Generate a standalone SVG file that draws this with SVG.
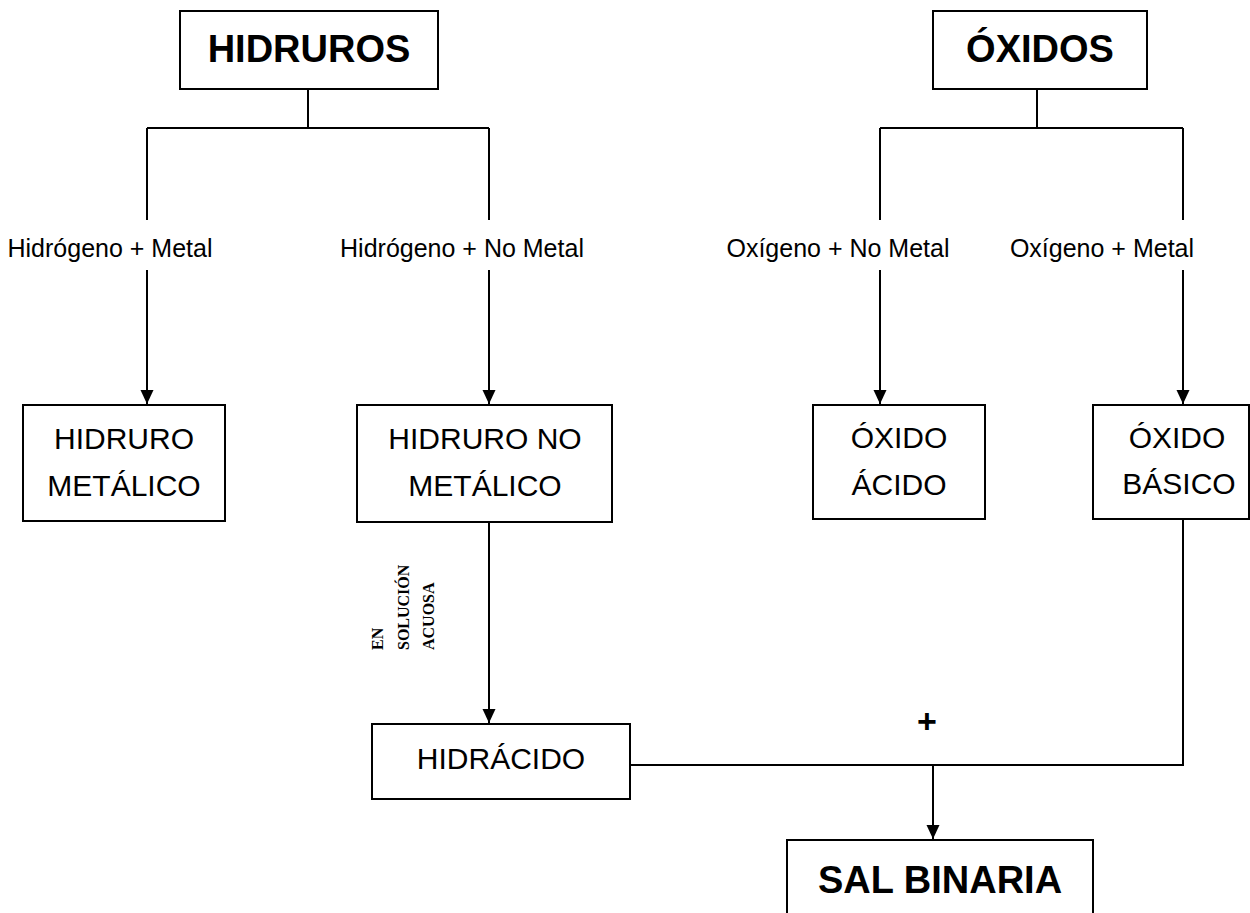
<svg xmlns="http://www.w3.org/2000/svg" width="1250" height="913" viewBox="0 0 1250 913">
<style>
.box{fill:#fff;stroke:#000;stroke-width:2}
.ln{fill:none;stroke:#000;stroke-width:2}
.t{font-family:'Liberation Sans',sans-serif;fill:#000;text-anchor:middle}
.big{font-size:38px;font-weight:bold}
.reg{font-size:30px}
.lab{font-family:'Liberation Sans',sans-serif;font-size:25px;fill:#000;text-anchor:middle}
.rot{font-family:'Liberation Serif',serif;font-size:16px;font-weight:bold;fill:#000}
</style>
<defs>
<marker id="ah" markerUnits="userSpaceOnUse" markerWidth="14" markerHeight="14" refX="14" refY="6.5" orient="auto">
<path d="M0,0 L14,6.5 L0,13 Z" fill="#000"/>
</marker>
</defs>
<g id="connectors">
<path class="ln" d="M308,89 V128 M147,128 H489 M147,128 V220 M489,128 V220"/>
<path class="ln" d="M1037,89 V128 M880,128 H1183 M880,128 V220 M1183,128 V220"/>
<path class="ln" d="M147,270 V404" marker-end="url(#ah)"/>
<path class="ln" d="M489,270 V404" marker-end="url(#ah)"/>
<path class="ln" d="M880,270 V404" marker-end="url(#ah)"/>
<path class="ln" d="M1183,270 V404" marker-end="url(#ah)"/>
<path class="ln" d="M489,522 V723" marker-end="url(#ah)"/>
<path class="ln" d="M630,765 H1183 V519"/>
<path class="ln" d="M933,765 V839" marker-end="url(#ah)"/>
</g>
<g id="hidruros">
<rect class="box" x="180" y="11" width="258" height="78"/>
<text class="t big" x="309" y="62">HIDRUROS</text>
</g>
<g id="oxidos">
<rect class="box" x="933" y="11" width="214" height="78"/>
<text class="t big" x="1040" y="62">ÓXIDOS</text>
</g>
<g id="label-h-metal"><text class="lab" x="110" y="257">Hidrógeno + Metal</text></g>
<g id="label-h-nometal"><text class="lab" x="462" y="257">Hidrógeno + No Metal</text></g>
<g id="label-o-nometal"><text class="lab" x="838" y="257">Oxígeno + No Metal</text></g>
<g id="label-o-metal"><text class="lab" x="1102" y="257">Oxígeno + Metal</text></g>
<g id="hidruro-metalico">
<rect class="box" x="23" y="405" width="202" height="116"/>
<text class="t reg" x="124" y="449">HIDRURO</text>
<text class="t reg" x="124" y="496">METÁLICO</text>
</g>
<g id="hidruro-no-metalico">
<rect class="box" x="357" y="405" width="255" height="117"/>
<text class="t reg" x="485" y="449">HIDRURO NO</text>
<text class="t reg" x="485" y="496">METÁLICO</text>
</g>
<g id="oxido-acido">
<rect class="box" x="813" y="405" width="172" height="114"/>
<text class="t reg" x="899" y="448">ÓXIDO</text>
<text class="t reg" x="899" y="495">ÁCIDO</text>
</g>
<g id="oxido-basico">
<rect class="box" x="1093" y="405" width="156" height="114"/>
<text class="t reg" x="1177" y="448">ÓXIDO</text>
<text class="t reg" x="1179" y="494">BÁSICO</text>
</g>
<g id="en-solucion">
<text class="rot" transform="translate(383,650) rotate(-90)">EN</text>
<text class="rot" transform="translate(409,650) rotate(-90)">SOLUCIÓN</text>
<text class="rot" transform="translate(434,650) rotate(-90)">ACUOSA</text>
</g>
<g id="hidracido">
<rect class="box" x="372" y="724" width="258" height="75"/>
<text class="t reg" x="501" y="769">HIDRÁCIDO</text>
</g>
<g id="plus"><text class="t" x="927" y="733" style="font-size:34px;font-weight:bold">+</text></g>
<g id="sal-binaria">
<rect class="box" x="787" y="840" width="306" height="80"/>
<text class="t big" x="940" y="893">SAL BINARIA</text>
</g>
</svg>
